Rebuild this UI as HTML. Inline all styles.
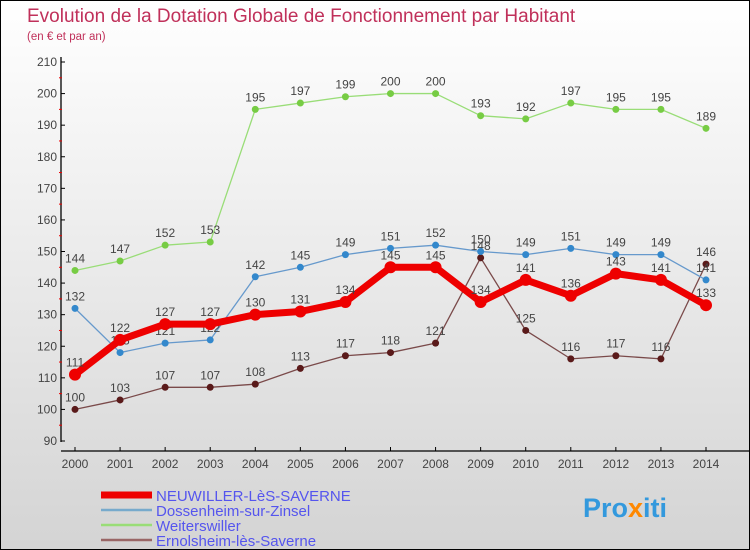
<!DOCTYPE html>
<html><head><meta charset="utf-8"><style>
body{margin:0}
#c{width:748px;height:548px;border:1px solid #000;background:linear-gradient(#fff,#d4d4d4);position:relative;font-family:"Liberation Sans",sans-serif;overflow:hidden}
</style></head><body>
<div id="c">
<svg id="s" width="748" height="548" style="position:absolute;left:0;top:0">
<text x="26" y="21" font-size="19" fill="#c0305a">Evolution de la Dotation Globale de Fonctionnement par Habitant</text>
<text x="26" y="39" font-size="11.5" fill="#c0305a">(en € et par an)</text>
<g id="g"></g>
</svg>
</div>
<script>
const years=[2000,2001,2002,2003,2004,2005,2006,2007,2008,2009,2010,2011,2012,2013,2014];
const neuwiller=[111,122,127,127,130,131,134,145,145,134,141,136,143,141,133];
const dossenheim=[132,118,121,122,142,145,149,151,152,150,149,151,149,149,141];
const weiterswiller=[144,147,152,153,195,197,199,200,200,193,192,197,195,195,189];
const ernolsheim=[100,103,107,107,108,113,117,118,121,148,125,116,117,116,146];
const yTicks=[90,100,110,120,130,140,150,160,170,180,190,200,210];
const names=["NEUWILLER-LèS-SAVERNE","Dossenheim-sur-Zinsel","Weiterswiller","Ernolsheim-lès-Saverne"];
const NS="http://www.w3.org/2000/svg";
const g=document.getElementById('g');
function X(i){return 74+i*(705-74)/(years.length-1);}
function Y(v){return 440-(v-90)*(379/120);}
function mk(t,a,p){const e=document.createElementNS(NS,t);for(const k in a)e.setAttribute(k,a[k]);(p||g).appendChild(e);return e;}
let ax=mk('line',{x1:60,y1:56,x2:60,y2:441,stroke:'#000','stroke-width':1.3});


let axx=mk('line',{x1:60,y1:450,x2:748,y2:450,stroke:'#000','stroke-width':1.3});


yTicks.forEach((v,i)=>{
 mk('line',{x1:60,y1:Y(v),x2:64,y2:Y(v),stroke:'#000'});
 if(i<yTicks.length-1) mk('line',{x1:58,y1:Y(v+5),x2:61,y2:Y(v+5),stroke:'#e00'});
 const t=mk('text',{x:56,y:Y(v)+4,'text-anchor':'end','font-size':12,fill:'#444'});
 t.textContent=v;
 
 
});
years.forEach((yr,i)=>{
 mk('line',{x1:X(i),y1:446,x2:X(i),y2:450,stroke:'#000'});
 const t=mk('text',{x:X(i),y:467,'text-anchor':'middle','font-size':12,fill:'#444'});
 t.textContent=yr;
 
 
});
const series=[
 {d:ernolsheim,c:'#7a4a4a',dot:'#5a1a1a',w:1.3,r:3.5,n:'ernolsheim'},
 {d:weiterswiller,c:'#99dd77',dot:'#77cc44',w:1.3,r:3.5,n:'weiterswiller'},
 {d:dossenheim,c:'#6699cc',dot:'#3388cc',w:1.3,r:3.5,n:'dossenheim'},
 {d:neuwiller,c:'#ee0000',dot:'#ee0000',w:7,r:6,n:'neuwiller'}];
series.forEach(s=>{
 const p=mk('polyline',{points:s.d.map((v,i)=>X(i)+','+Y(v)).join(' '),fill:'none',stroke:s.c,'stroke-width':s.w,'stroke-linejoin':'round'});
 
 
 s.d.forEach((v,i)=>{
  const c=mk('circle',{cx:X(i),cy:Y(v),r:s.r,fill:s.dot});
  
  
  const t=mk('text',{x:X(i),y:Y(v)-8,'text-anchor':'middle','font-size':12,fill:'#444'});
  t.textContent=v;
  
  
 });
});
const lc=['#ee0000','#77aacc','#99dd77','#996666'],lw=[7,2.5,2.5,2.5];
names.forEach((n,i)=>{
 const y=494+i*15;
 const l=mk('line',{x1:100,y1:y,x2:151,y2:y,stroke:lc[i],'stroke-width':lw[i]});
 
 
 const t=mk('text',{x:155,y:y+6,'font-size':15,fill:'#5555ee'});
 t.textContent=n;
 
 
});
const px=mk('text',{x:582,y:516,'font-size':27,'font-weight':'bold',fill:'#3399dd'});
px.innerHTML='Pro<tspan fill="#ff8800">x</tspan>iti';


</script>
</body></html>
